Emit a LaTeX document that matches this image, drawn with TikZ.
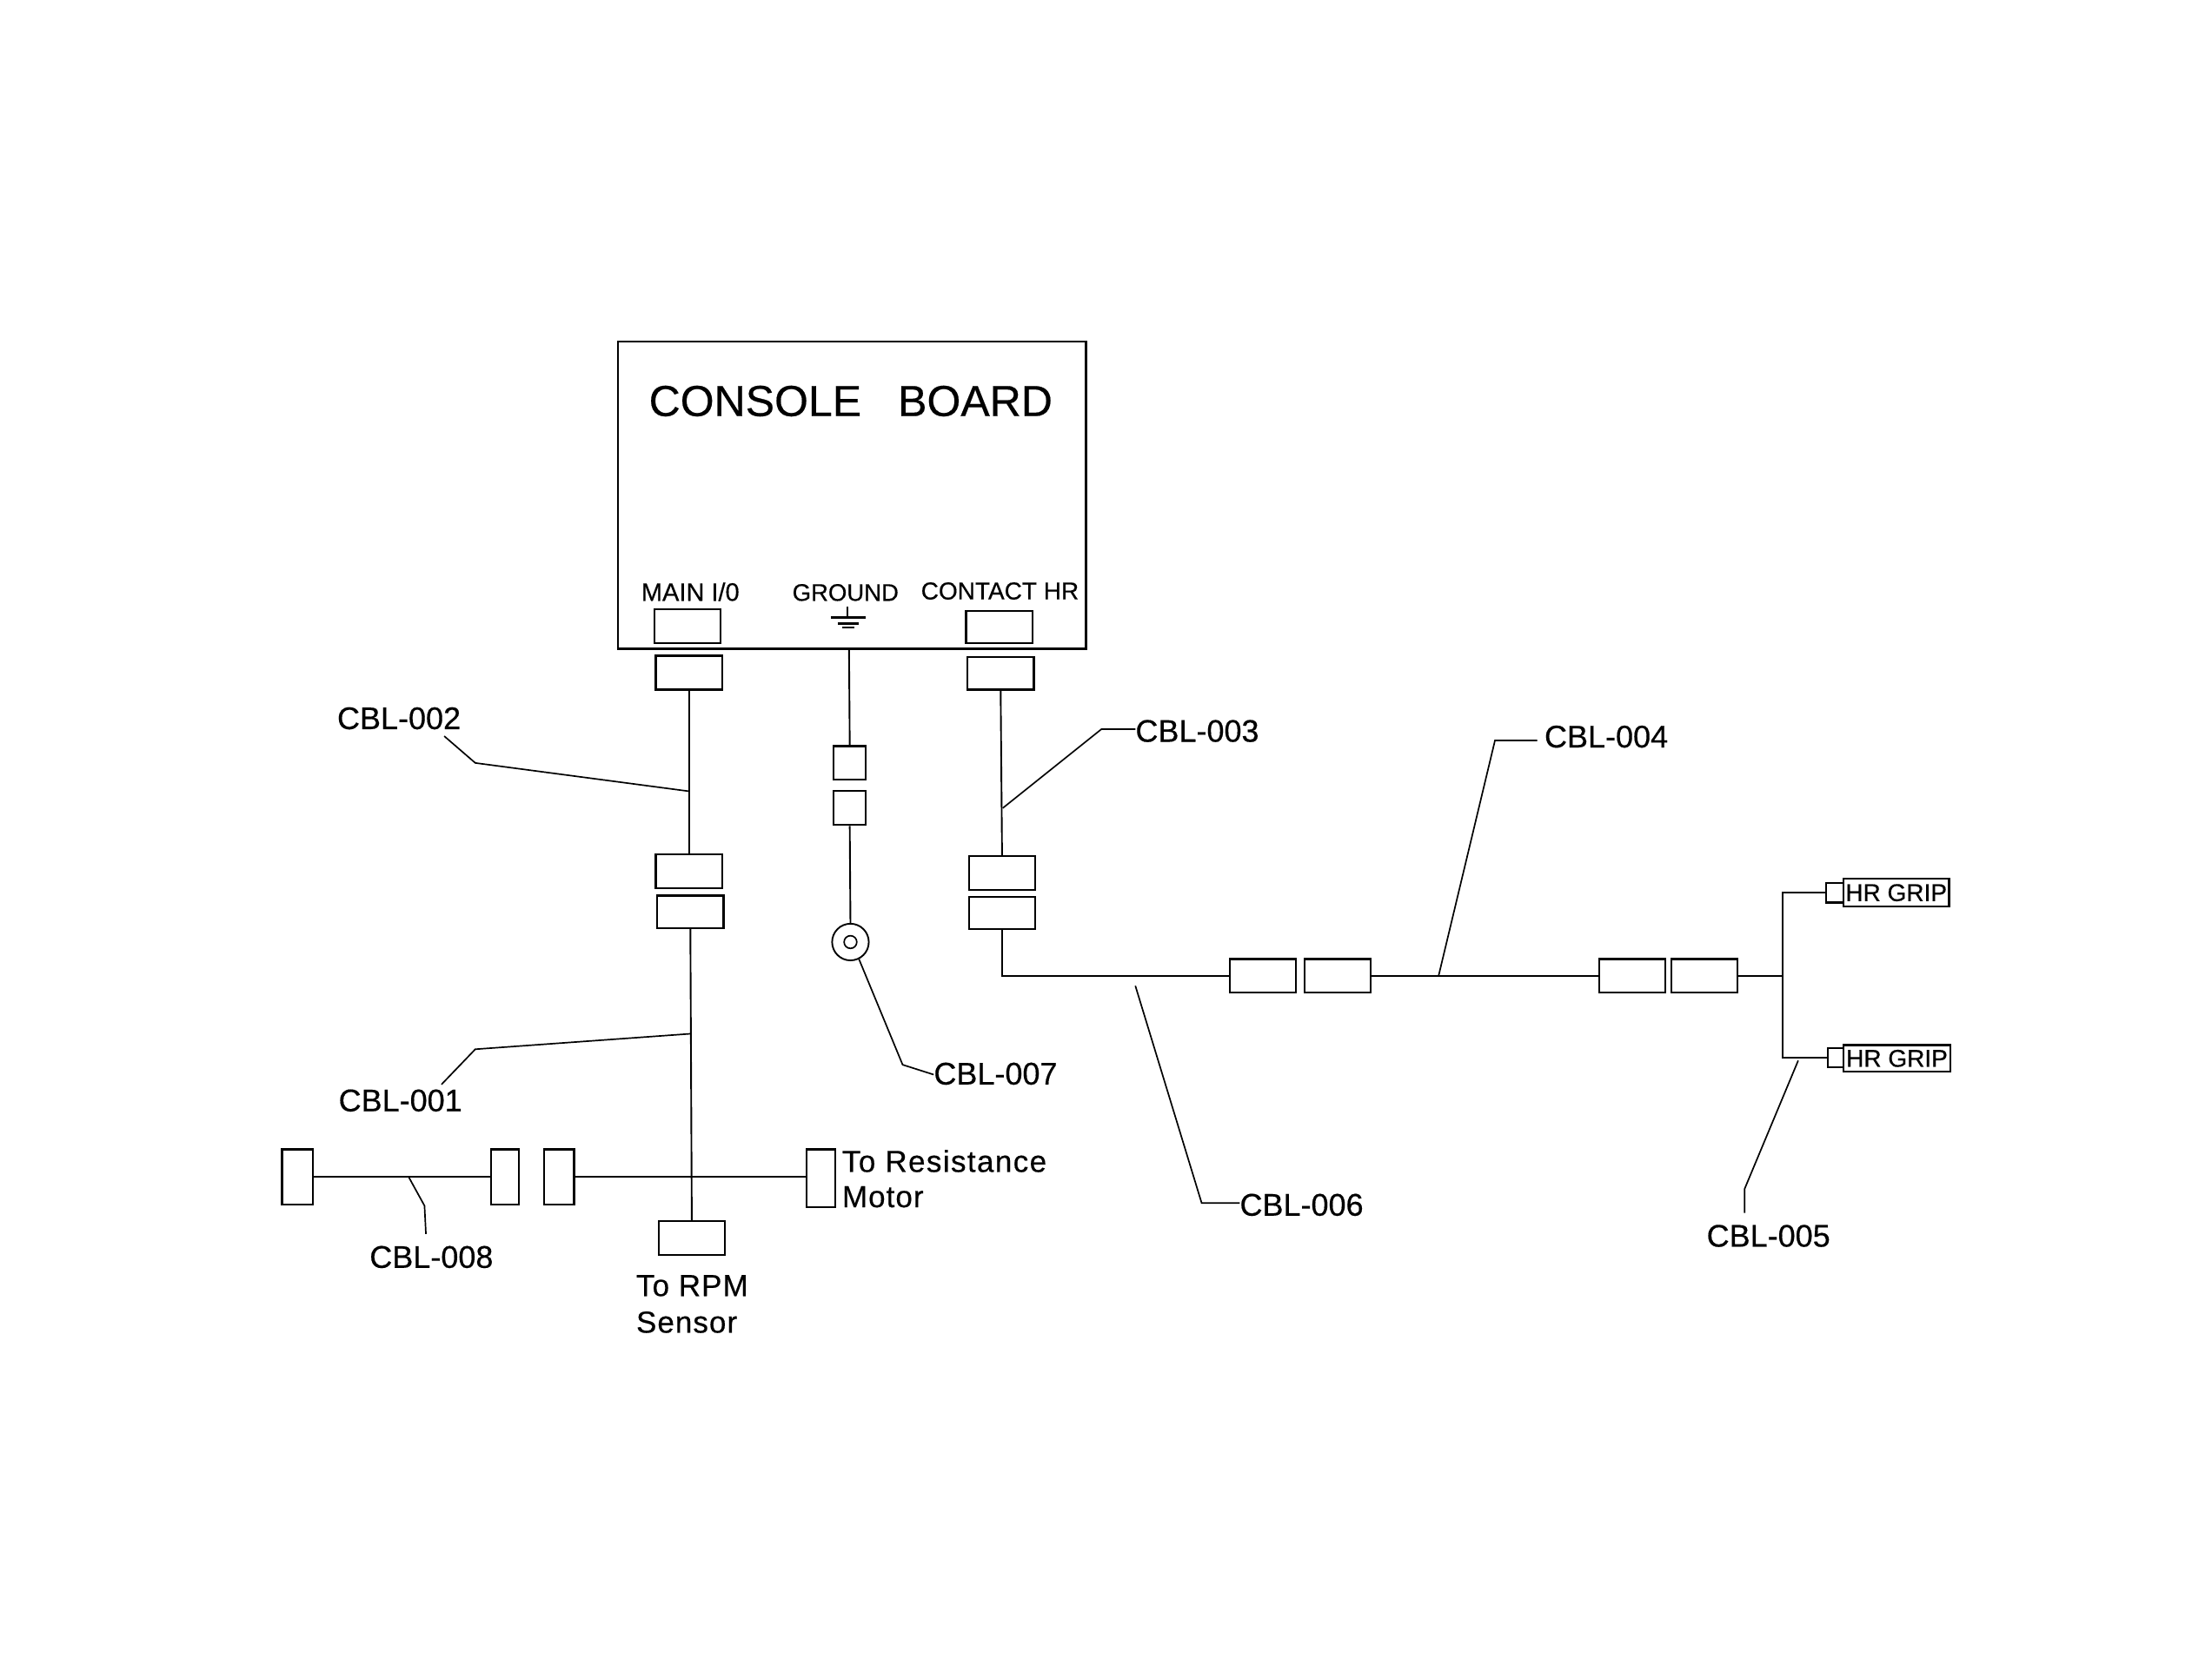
\documentclass[tikz,border=0pt]{standalone}
\usepackage{fontspec}
\setmainfont{Liberation Sans}[FakeBold=0.4]
\newcommand\fs[1]{\fontsize{#1}{#1}\selectfont}
% name, x1, y1, x2, y2 in overview units
\newcommand\conn[5]{\node[connbox,minimum width={(#4-#2)*1.6227pt},minimum height={(#5-#3)*1.6227pt}] (#1) at ({(#2+#4)/2},{(#3+#5)/2}) {};}
\tikzset{
  connbox/.style={draw,inner sep=0pt,line width=2.2pt},
  wire/.style={line width=2.6pt},
  thin wire/.style={line width=1.9pt},
  leader/.style={line width=1.7pt},
  cbl/.style={anchor=base west,inner sep=0pt,font=\fs{36}},
  port/.style={anchor=base,inner sep=0pt,font=\fs{28}},
  note/.style={anchor=base west,inner sep=0pt,font=\fs{35}},
}
\begin{document}
\begin{tikzpicture}[x=1.6227pt,y=-1.6227pt]
\useasboundingbox (0,0) rectangle (1568.4,1172.1);
% board
\conn{board}{438}{242}{770}{460}
\node[anchor=base west,inner sep=0pt,font=\fs{50}] (title) at (460,295) {CONSOLE\hspace{42pt}BOARD};
\node[port,font=\fs{29}] (lmain) at (489.5,426) {MAIN I/0};
\node[port,font=\fs{27.5}] (lgnd) at (599.5,426) {GROUND};
\node[port] (lch) at (709,425) {CONTACT HR};
% ground symbol
\coordinate (gt) at (601,430); \coordinate (gb) at (601,438);
\draw[thin wire] (gt) -- (gb);
\coordinate (g1a) at (589,438); \coordinate (g1b) at (614,438);
\coordinate (g2a) at (594,442); \coordinate (g2b) at (609,442);
\coordinate (g3a) at (597,445); \coordinate (g3b) at (606,445);
\draw[wire] (g1a) -- (g1b) (g2a) -- (g2b) (g3a) -- (g3b);
% connectors: main
\conn{mainin}{464}{432}{511}{456}
\conn{mainout}{465}{465}{512}{489}
\conn{mainb}{465}{606}{512}{630}
\conn{mainc}{466}{635}{513}{658}
\conn{rpm}{467}{866}{514}{890}
\draw[thin wire] (mainout.south) -- (mainb.north);
\draw[thin wire] (mainc.south) -- (rpm.north);
% horizontal branch
\conn{c8a}{200}{815}{222}{854}
\conn{c8b}{348}{815}{368}{854}
\conn{c8c}{386}{815}{407}{854}
\conn{motor}{572}{815}{592}{856}
\draw[wire] (c8a.east) -- (c8b.west);
\draw[wire] (c8c.east) -- (c8c.east -| motor.west);
% ground
\coordinate (gdrop) at (602,460);
\conn{gnda}{591}{529}{614}{553}
\conn{gndb}{591}{561}{614}{585}
\node[circle,draw,line width=1.9pt,minimum size={26*1.6227pt},inner sep=0pt] (lug) at (603,668) {};
\node[circle,draw,line width=1.7pt,minimum size={9*1.6227pt},inner sep=0pt] (lugin) at (603,668) {};
\draw[thin wire] (gdrop) -- (gnda.north);
\draw[thin wire] (gndb.south) -- (lug.north);
% contact HR
\conn{chin}{685}{433}{732}{456}
\conn{chout}{686}{466}{733}{489}
\conn{chb}{687}{607}{734}{631}
\conn{chc}{687}{636}{734}{659}
\conn{d1}{872}{680}{919}{704}
\conn{d2}{925}{680}{972}{704}
\conn{e1}{1134}{680}{1181}{704}
\conn{e2}{1185}{680}{1232}{704}
\draw[thin wire] (chout.south) -- (chb.north);
\draw[wire] (chc.south) |- (d1.west);
\draw[wire] (d2.east) -- (e1.west);
% grips
\coordinate (split) at (1264,692);
\conn{s1}{1295}{626}{1307}{640}
\node[connbox,minimum width={75*1.6227pt},minimum height={20*1.6227pt},font=\fs{28}] (g1) at (1344.5,633) {HR GRIP};
\conn{s2}{1296}{743}{1307}{757}
\node[connbox,minimum width={76*1.6227pt},minimum height={19*1.6227pt},font=\fs{28}] (g2) at (1345,750.5) {HR GRIP};
\draw[wire] (e2.east) -- (split);
\draw[wire] (s1.west) -| (split) |- (s2.west);
% labels and leaders
\node[cbl] (l2) at (239,517) {CBL-002};
\node[cbl] (l1) at (240,788) {CBL-001};
\node[cbl] (l3) at (805,526) {CBL-003};
\node[cbl] (l4) at (1095,530) {CBL-004};
\node[cbl] (l6) at (879,862) {CBL-006};
\node[cbl] (l7) at (662,769) {CBL-007};
\node[cbl] (l5) at (1210,884) {CBL-005};
\node[cbl] (l8) at (262,899) {CBL-008};
\coordinate (t2) at (315,522); \coordinate (k2) at (337,541); \coordinate (e2p) at (488,561);
\coordinate (t1) at (313,769); \coordinate (k1) at (337,744); \coordinate (e1p) at (490,733);
\coordinate (t3) at (805,517); \coordinate (k3) at (781,517); \coordinate (e3p) at (711,573);
\coordinate (t4) at (1090,525); \coordinate (k4) at (1060,525); \coordinate (e4p) at (1020,692);
\coordinate (t6) at (879,853); \coordinate (k6) at (852,853); \coordinate (e6p) at (805,699);
\coordinate (t7) at (662,762); \coordinate (k7) at (640,755); \coordinate (e7p) at (609,680);
\coordinate (t5) at (1237,860); \coordinate (k5) at (1237,843); \coordinate (e5p) at (1275,752);
\coordinate (t8) at (302,875); \coordinate (k8) at (301,855); \coordinate (e8p) at (290,835);
\draw[leader] (t2) -- (k2) -- (e2p);
\draw[leader] (t1) -- (k1) -- (e1p);
\draw[leader] (t3) -- (k3) -- (e3p);
\draw[leader] (t4) -- (k4) -- (e4p);
\draw[leader] (t6) -- (k6) -- (e6p);
\draw[leader] (t7) -- (k7) -- (e7p);
\draw[leader] (t5) -- (k5) -- (e5p);
\draw[leader] (t8) -- (k8) -- (e8p);
% notes
\node[note] (n1) at (597,831) {\addfontfeature{LetterSpace=4}To Resistance};
\node[note] (n2) at (597,856) {\addfontfeature{LetterSpace=3}Motor};
\node[note] (n3) at (451,919) {\addfontfeature{LetterSpace=3}To RPM};
\node[note] (n4) at (451,945) {\addfontfeature{LetterSpace=3}Sensor};
\end{tikzpicture}
\end{document}
